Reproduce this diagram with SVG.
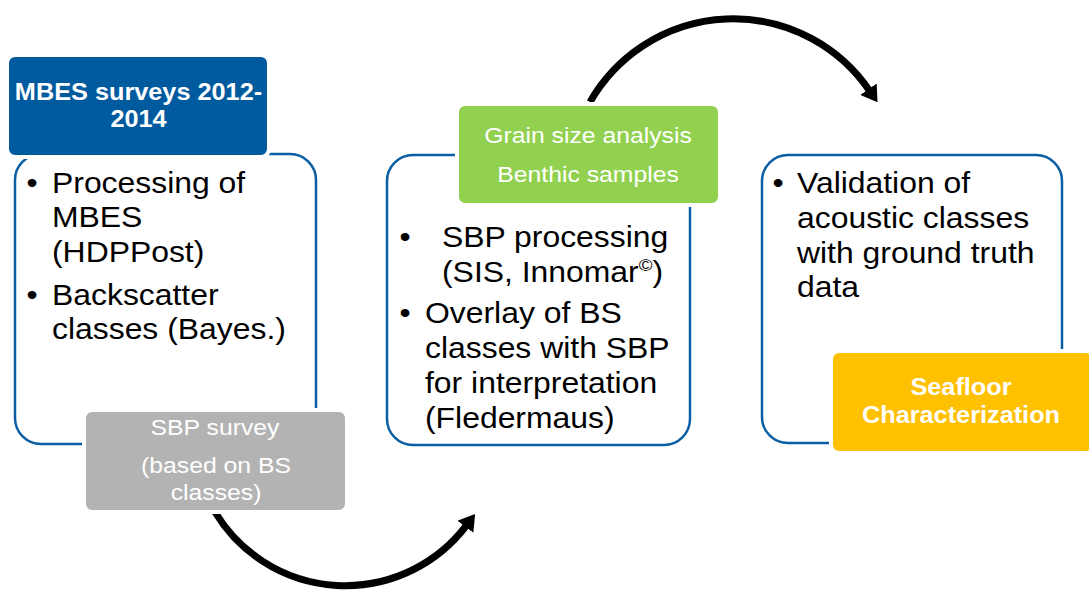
<svg xmlns="http://www.w3.org/2000/svg" width="1089" height="590" viewBox="0 0 1089 590">
  <style>
    .frame { fill: #ffffff; stroke: #0B5EA3; stroke-width: 2.5; }
    .tag { stroke: #ffffff; stroke-width: 4; }
    .body { font-family: "Liberation Sans", Arial, sans-serif; font-size: 29px; fill: #000000; }
    .hdr { font-family: "Liberation Sans", Arial, sans-serif; font-size: 23px; font-weight: bold; fill: #ffffff; text-anchor: middle; }
    .lbl { font-family: "Liberation Sans", Arial, sans-serif; font-size: 22.5px; fill: #ffffff; text-anchor: middle; }
    .flow { fill: none; stroke: #000000; stroke-width: 7; marker-end: url(#head); }
  </style>
  <defs>
    <marker id="head" viewBox="0 0 16 20" refX="1" refY="10" markerWidth="16" markerHeight="20" markerUnits="userSpaceOnUse" orient="auto">
      <path d="M0,0 L16,10 L0,20 Z" fill="#000000"/>
    </marker>
  </defs>

  <!-- curved arrows between the stages -->
  <g id="connectors">
    <path class="flow" d="M 590 102 A 165 165 0 0 1 869 90"/>
    <path class="flow" d="M 215 512 A 152 152 0 0 0 466 526"/>
  </g>

  <!-- stage 1: MBES -->
  <g id="stage-mbes">
    <rect class="frame" x="15" y="154" width="301" height="290" rx="26"/>
    <g class="body">
      <text transform="translate(26.5 193) scale(1.1 1)">•</text>
      <text transform="translate(52 193) scale(1.1 1)">Processing of</text>
      <text transform="translate(52 227) scale(1.1 1)">MBES</text>
      <text transform="translate(52 262) scale(1.1 1)">(HDPPost)</text>
      <text transform="translate(26.5 305) scale(1.1 1)">•</text>
      <text transform="translate(52 305) scale(1.1 1)">Backscatter</text>
      <text transform="translate(52 339) scale(1.1 1)">classes (Bayes.)</text>
    </g>
  </g>
  <g id="tag-mbes">
    <rect class="tag" x="7" y="55" width="262" height="102" rx="8" fill="#005A9E"/>
    <text class="hdr" transform="translate(138.5 100) scale(1.1 1)">MBES surveys 2012-</text>
    <text class="hdr" transform="translate(138.5 127) scale(1.1 1)">2014</text>
  </g>

  <!-- stage 2: SBP -->
  <g id="stage-sbp">
    <rect class="frame" x="387" y="155" width="303" height="290" rx="26"/>
    <g class="body">
      <text transform="translate(399.5 247) scale(1.1 1)">•</text>
      <text transform="translate(442 247) scale(1.1 1)">SBP processing</text>
      <text transform="translate(442 282) scale(1.1 1)">(SIS, Innomar<tspan font-size="17" dy="-11">©</tspan><tspan dy="11">)</tspan></text>
      <text transform="translate(399.5 323) scale(1.1 1)">•</text>
      <text transform="translate(425 323) scale(1.1 1)">Overlay of BS</text>
      <text transform="translate(425 358) scale(1.1 1)">classes with SBP</text>
      <text transform="translate(425 393) scale(1.1 1)">for interpretation</text>
      <text transform="translate(425 428) scale(1.1 1)">(Fledermaus)</text>
    </g>
  </g>
  <g id="tag-sbp-survey">
    <rect class="tag" x="84" y="410" width="263" height="102" rx="8" fill="#B3B3B3"/>
    <text class="lbl" transform="translate(215 435) scale(1.1 1)">SBP survey</text>
    <text class="lbl" transform="translate(216 473) scale(1.1 1)">(based on BS</text>
    <text class="lbl" transform="translate(216 500) scale(1.1 1)">classes)</text>
  </g>
  <g id="tag-grain">
    <rect class="tag" x="457" y="104" width="263" height="101" rx="8" fill="#92D050"/>
    <text class="lbl" transform="translate(588 143) scale(1.1 1)">Grain size analysis</text>
    <text class="lbl" transform="translate(588 182) scale(1.1 1)">Benthic samples</text>
  </g>

  <!-- stage 3: validation -->
  <g id="stage-validation">
    <rect class="frame" x="762" y="155" width="300" height="288" rx="26"/>
    <g class="body">
      <text transform="translate(772.5 193) scale(1.1 1)">•</text>
      <text transform="translate(797 193) scale(1.1 1)">Validation of</text>
      <text transform="translate(797 228) scale(1.1 1)">acoustic classes</text>
      <text transform="translate(797 263) scale(1.1 1)">with ground truth</text>
      <text transform="translate(797 297) scale(1.1 1)">data</text>
    </g>
  </g>
  <g id="tag-seafloor">
    <rect class="tag" x="831" y="351" width="263" height="102" rx="8" fill="#FFC000"/>
    <text class="hdr" transform="translate(961 395) scale(1.1 1)">Seafloor</text>
    <text class="hdr" transform="translate(961 423) scale(1.1 1)">Characterization</text>
  </g>
</svg>
